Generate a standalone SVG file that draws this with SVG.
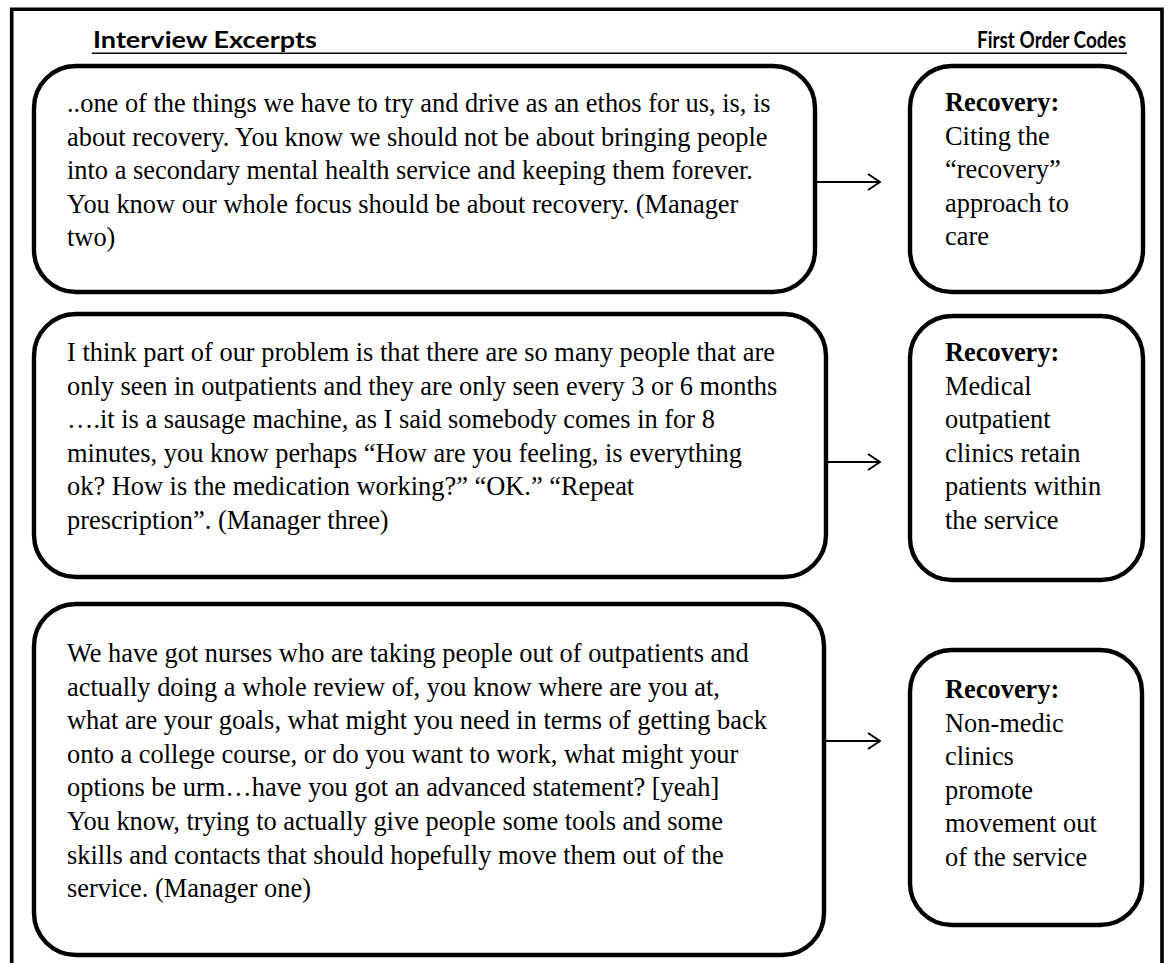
<svg xmlns="http://www.w3.org/2000/svg" width="1171" height="963" viewBox="0 0 1171 963">
<style>
.frame{fill:none;stroke:#000;stroke-width:3.6}
.box{fill:#fff;stroke:#000;stroke-width:4.4}
.t{font-family:"Liberation Serif","Times New Roman",serif;font-size:26.4px;fill:#000}
.b{font-weight:bold}
.h{font-family:Lato,"Liberation Sans",sans-serif;font-weight:bold;font-size:22px;fill:#000}
.c{fill:none;stroke:#000;stroke-width:2}
</style>
<defs>
<marker id="arr" viewBox="0 0 14 20" refX="13" refY="10" markerWidth="14" markerHeight="20" markerUnits="userSpaceOnUse" orient="auto">
<path d="M1,2 L13,10 L1,18" fill="none" stroke="#000" stroke-width="2"/>
</marker>
</defs>
<rect width="1171" height="963" fill="#fff"/>
<path class="frame" d="M11.7,963 V9.3 H1162 V963"/>
<g id="header">
<text class="h" x="93" y="48" style="font-size:23px" textLength="224" lengthAdjust="spacingAndGlyphs">Interview Excerpts</text>
<text class="h" x="977" y="48" textLength="149" lengthAdjust="spacingAndGlyphs">First Order Codes</text>
<line x1="92" y1="53.2" x2="1127" y2="53.2" stroke="#000" stroke-width="1.4"/>
</g>
<g id="excerpt1">
<rect class="box" x="34" y="66" width="781" height="226" rx="42"/>
<text class="t"><tspan x="67" y="112">..one of the things we have to try and drive as an ethos for us, is, is</tspan><tspan x="67" y="145.6">about recovery. You know we should not be about bringing people</tspan><tspan x="67" y="179.2">into a secondary mental health service and keeping them forever.</tspan><tspan x="67" y="212.8">You know our whole focus should be about recovery. (Manager</tspan><tspan x="67" y="246.4">two)</tspan></text>
</g>
<g id="code1">
<rect class="box" x="910" y="66" width="233" height="226" rx="42"/>
<text class="t"><tspan x="945" y="111" class="b">Recovery:</tspan><tspan x="945" y="144.6">Citing the</tspan><tspan x="945" y="178.2">“recovery”</tspan><tspan x="945" y="211.8">approach to</tspan><tspan x="945" y="245.4">care</tspan></text>
</g>
<g id="excerpt2">
<rect class="box" x="34" y="314" width="792" height="263" rx="42"/>
<text class="t"><tspan x="67" y="361">I think part of our problem is that there are so many people that are</tspan><tspan x="67" y="394.6">only seen in outpatients and they are only seen every 3 or 6 months</tspan><tspan x="67" y="428.2">….it is a sausage machine, as I said somebody comes in for 8</tspan><tspan x="67" y="461.8">minutes, you know perhaps “How are you feeling, is everything</tspan><tspan x="67" y="495.4">ok? How is the medication working?” “OK.” “Repeat</tspan><tspan x="67" y="529">prescription”. (Manager three)</tspan></text>
</g>
<g id="code2">
<rect class="box" x="910" y="316" width="233" height="264" rx="42"/>
<text class="t"><tspan x="945" y="361" class="b">Recovery:</tspan><tspan x="945" y="394.6">Medical</tspan><tspan x="945" y="428.2">outpatient</tspan><tspan x="945" y="461.8">clinics retain</tspan><tspan x="945" y="495.4">patients within</tspan><tspan x="945" y="529">the service</tspan></text>
</g>
<g id="excerpt3">
<rect class="box" x="34" y="604" width="790" height="351" rx="42"/>
<text class="t"><tspan x="67" y="662">We have got nurses who are taking people out of outpatients and</tspan><tspan x="67" y="695.6">actually doing a whole review of, you know where are you at,</tspan><tspan x="67" y="729.2">what are your goals, what might you need in terms of getting back</tspan><tspan x="67" y="762.8">onto a college course, or do you want to work, what might your</tspan><tspan x="67" y="796.4">options be urm…have you got an advanced statement? [yeah]</tspan><tspan x="67" y="830">You know, trying to actually give people some tools and some</tspan><tspan x="67" y="863.6">skills and contacts that should hopefully move them out of the</tspan><tspan x="67" y="897.2">service. (Manager one)</tspan></text>
</g>
<g id="code3">
<rect class="box" x="910" y="650" width="232" height="275" rx="42"/>
<text class="t"><tspan x="945" y="698" class="b">Recovery:</tspan><tspan x="945" y="731.6">Non-medic</tspan><tspan x="945" y="765.2">clinics</tspan><tspan x="945" y="798.8">promote</tspan><tspan x="945" y="832.4">movement out</tspan><tspan x="945" y="866">of the service</tspan></text>
</g>
<g id="connectors">
<line class="c" x1="816" y1="182" x2="880" y2="182" marker-end="url(#arr)"/>
<line class="c" x1="827" y1="462" x2="880" y2="462" marker-end="url(#arr)"/>
<line class="c" x1="825" y1="741" x2="880" y2="741" marker-end="url(#arr)"/>
</g>
</svg>
